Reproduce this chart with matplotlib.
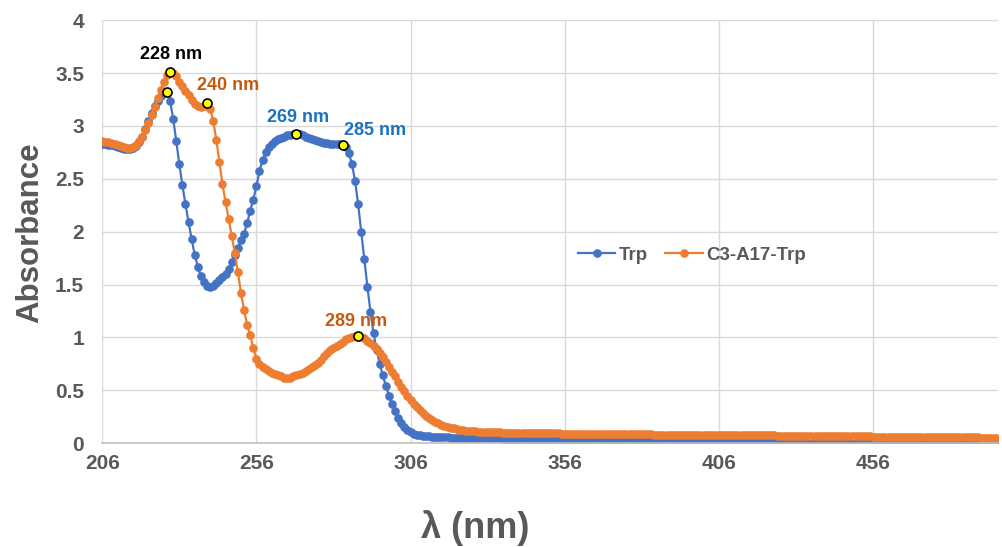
import matplotlib

matplotlib.use("Agg")
import matplotlib.pyplot as plt

plt.rcParams["font.family"] = ["Liberation Sans", "DejaVu Sans"]
plt.rcParams["font.weight"] = "bold"

# =========================
# DATA (absorbance, 1 nm steps from 206 to 496 nm)
# =========================

wavelength = list(range(206, 497))

trp = [
    2.83, 2.83, 2.82, 2.82, 2.81, 2.80, 2.79, 2.78, 2.78, 2.78,  # 206
    2.79, 2.81, 2.85, 2.90, 2.97, 3.05, 3.12, 3.19, 3.24, 3.28,  # 216
    3.31, 3.32, 3.24, 3.07, 2.86, 2.64, 2.44, 2.26, 2.09, 1.93,  # 226
    1.78, 1.67, 1.58, 1.52, 1.49, 1.48, 1.49, 1.51, 1.54, 1.57,  # 236
    1.60, 1.65, 1.71, 1.78, 1.85, 1.92, 1.98, 2.08, 2.20, 2.30,  # 246
    2.43, 2.57, 2.68, 2.75, 2.80, 2.83, 2.86, 2.88, 2.89, 2.90,  # 256
    2.91, 2.91, 2.92, 2.92, 2.92, 2.91, 2.90, 2.89, 2.88, 2.87,  # 266
    2.86, 2.85, 2.84, 2.84, 2.83, 2.83, 2.83, 2.83, 2.82, 2.80,  # 276
    2.74, 2.64, 2.48, 2.26, 2.00, 1.74, 1.48, 1.24, 1.04, 0.88,  # 286
    0.75, 0.64, 0.54, 0.45, 0.37, 0.30, 0.24, 0.19, 0.15, 0.12,  # 296
    0.10, 0.09, 0.08, 0.075, 0.070, 0.066, 0.063, 0.060, 0.058, 0.056,  # 306
    0.055, 0.054, 0.053, 0.052, 0.051, 0.050, 0.050, 0.049, 0.048, 0.048,  # 316
    0.047, 0.047, 0.046, 0.046, 0.045, 0.045, 0.045, 0.044, 0.044, 0.044,  # 326
    0.043, 0.043, 0.043, 0.042, 0.042, 0.042, 0.042, 0.041, 0.041, 0.041,  # 336
    0.041, 0.040, 0.040, 0.040, 0.040, 0.040, 0.039, 0.039, 0.039, 0.039,  # 346
    0.039, 0.038, 0.038, 0.038, 0.038, 0.038, 0.038, 0.037, 0.037, 0.037,  # 356
    0.037, 0.037, 0.037, 0.036, 0.036, 0.036, 0.036, 0.036, 0.036, 0.036,  # 366
    0.035, 0.035, 0.035, 0.035, 0.035, 0.035, 0.035, 0.034, 0.034, 0.034,  # 376
    0.034, 0.034, 0.034, 0.034, 0.034, 0.033, 0.033, 0.033, 0.033, 0.033,  # 386
    0.033, 0.033, 0.033, 0.032, 0.032, 0.032, 0.032, 0.032, 0.032, 0.032,  # 396
    0.032, 0.032, 0.031, 0.031, 0.031, 0.031, 0.031, 0.031, 0.031, 0.031,  # 406
    0.031, 0.030, 0.030, 0.030, 0.030, 0.030, 0.030, 0.030, 0.030, 0.030,  # 416
    0.030, 0.029, 0.029, 0.029, 0.029, 0.029, 0.029, 0.029, 0.029, 0.029,  # 426
    0.029, 0.029, 0.028, 0.028, 0.028, 0.028, 0.028, 0.028, 0.028, 0.028,  # 436
    0.028, 0.028, 0.028, 0.027, 0.027, 0.027, 0.027, 0.027, 0.027, 0.027,  # 446
    0.027, 0.027, 0.027, 0.027, 0.027, 0.026, 0.026, 0.026, 0.026, 0.026,  # 456
    0.026, 0.026, 0.026, 0.026, 0.026, 0.026, 0.026, 0.026, 0.025, 0.025,  # 466
    0.025, 0.025, 0.025, 0.025, 0.025, 0.025, 0.025, 0.025, 0.025, 0.025,  # 476
    0.025, 0.025, 0.024, 0.024, 0.024, 0.024, 0.024, 0.024, 0.024, 0.024,  # 486
    0.024,  # 496
]

c3_a17_trp = [
    2.86, 2.85, 2.85, 2.84, 2.83, 2.82, 2.81, 2.80, 2.79, 2.79,  # 206
    2.80, 2.82, 2.86, 2.90, 2.96, 3.03, 3.10, 3.18, 3.26, 3.34,  # 216
    3.42, 3.48, 3.51, 3.50, 3.47, 3.42, 3.38, 3.33, 3.29, 3.25,  # 226
    3.21, 3.19, 3.18, 3.19, 3.22, 3.16, 3.05, 2.87, 2.66, 2.45,  # 236
    2.28, 2.12, 1.96, 1.80, 1.62, 1.42, 1.26, 1.12, 1.02, 0.90,  # 246
    0.80, 0.75, 0.72, 0.70, 0.68, 0.66, 0.65, 0.64, 0.63, 0.62,  # 256
    0.62, 0.62, 0.63, 0.64, 0.65, 0.66, 0.68, 0.70, 0.72, 0.74,  # 266
    0.76, 0.79, 0.82, 0.85, 0.88, 0.90, 0.92, 0.94, 0.96, 0.98,  # 276
    0.99, 1.00, 1.01, 1.01, 1.00, 0.99, 0.97, 0.95, 0.92, 0.89,  # 286
    0.85, 0.81, 0.77, 0.72, 0.67, 0.63, 0.58, 0.53, 0.49, 0.45,  # 296
    0.41, 0.37, 0.34, 0.31, 0.28, 0.26, 0.24, 0.22, 0.20, 0.19,  # 306
    0.175, 0.165, 0.155, 0.145, 0.138, 0.132, 0.127, 0.122, 0.118, 0.115,  # 316
    0.112, 0.110, 0.108, 0.106, 0.105, 0.104, 0.103, 0.102, 0.101, 0.100,  # 326
    0.099, 0.099, 0.098, 0.097, 0.097, 0.096, 0.096, 0.095, 0.095, 0.094,  # 336
    0.094, 0.093, 0.093, 0.093, 0.092, 0.092, 0.091, 0.091, 0.091, 0.090,  # 346
    0.090, 0.090, 0.089, 0.089, 0.089, 0.088, 0.088, 0.088, 0.087, 0.087,  # 356
    0.087, 0.086, 0.086, 0.086, 0.086, 0.085, 0.085, 0.085, 0.084, 0.084,  # 366
    0.084, 0.084, 0.083, 0.083, 0.083, 0.083, 0.082, 0.082, 0.082, 0.081,  # 376
    0.081, 0.081, 0.081, 0.080, 0.080, 0.080, 0.080, 0.079, 0.079, 0.079,  # 386
    0.079, 0.078, 0.078, 0.078, 0.078, 0.077, 0.077, 0.077, 0.077, 0.076,  # 396
    0.076, 0.076, 0.076, 0.075, 0.075, 0.075, 0.075, 0.074, 0.074, 0.074,  # 406
    0.074, 0.073, 0.073, 0.073, 0.073, 0.072, 0.072, 0.072, 0.072, 0.071,  # 416
    0.071, 0.071, 0.071, 0.070, 0.070, 0.070, 0.070, 0.069, 0.069, 0.069,  # 426
    0.068, 0.067, 0.067, 0.067, 0.066, 0.066, 0.066, 0.066, 0.065, 0.065,  # 436
    0.065, 0.065, 0.064, 0.064, 0.064, 0.064, 0.063, 0.063, 0.063, 0.063,  # 446
    0.062, 0.062, 0.062, 0.062, 0.061, 0.061, 0.061, 0.061, 0.060, 0.060,  # 456
    0.060, 0.060, 0.059, 0.059, 0.059, 0.059, 0.058, 0.058, 0.058, 0.057,  # 466
    0.056, 0.056, 0.056, 0.055, 0.055, 0.055, 0.055, 0.054, 0.054, 0.054,  # 476
    0.054, 0.053, 0.053, 0.053, 0.053, 0.052, 0.052, 0.052, 0.052, 0.051,  # 486
    0.051,  # 496
]

x_ticks = [206, 256, 306, 356, 406, 456]
y_ticks = [0, 0.5, 1, 1.5, 2, 2.5, 3, 3.5, 4]
y_tick_labels = ["0", "0.5", "1", "1.5", "2", "2.5", "3", "3.5", "4"]

# (series, wavelength of marked point, label, label colour, text centre offset px)
peaks = [
    ("trp", 227, None, None, None),
    ("c3", 228, "228 nm", "black", (1, 18)),
    ("c3", 240, "240 nm", "#C55A11", (21, 17)),
    ("trp", 269, "269 nm", "#1B71C2", (2, 17)),
    ("trp", 284, "285 nm", "#1B71C2", (32, 14)),
    ("c3", 289, "289 nm", "#C55A11", (-2, 15)),
]

BLUE = "#4472C4"
ORANGE = "#ED7D31"
GREY = "#595959"

fig = plt.figure(figsize=(10.02, 5.47), dpi=100)
ax = fig.add_axes([0.102, 0.190, 0.894, 0.773])

ax.plot(wavelength, trp, color=BLUE, lw=1.6, marker="o", ms=5.2, label="Trp")
ax.plot(wavelength, c3_a17_trp, color=ORANGE, lw=1.6, marker="o", ms=5.2, label="C3-A17-Trp")

series = {"trp": trp, "c3": c3_a17_trp}
for key, wl, text, color, offset in peaks:
    y = series[key][wavelength.index(wl)]
    ax.plot(wl, y, marker="o", ms=6.5, mfc="#FFFF00", mec="black", mew=1.2, zorder=5)
    if text:
        ax.annotate(
            text,
            (wl, y),
            xytext=offset,
            textcoords="offset pixels",
            ha="center",
            va="center",
            fontsize=13,
            fontweight="bold",
            color=color,
            zorder=6,
        )

ax.set_xlim(206, 496.5)
ax.set_ylim(0, 4)
ax.set_xticks(x_ticks)
ax.set_yticks(y_ticks)
ax.set_yticklabels(y_tick_labels)
ax.tick_params(axis="both", length=0, labelsize=15, labelcolor=GREY)
ax.tick_params(axis="y", pad=13)
ax.tick_params(axis="x", pad=8)
for lab in ax.get_xticklabels() + ax.get_yticklabels():
    lab.set_fontweight("bold")

ax.grid(True, color="#D9D9D9", lw=1)
ax.set_axisbelow(True)
for side in ["top", "right", "left"]:
    ax.spines[side].set_visible(False)
ax.spines["bottom"].set_color("#BFBFBF")
ax.spines["bottom"].set_linewidth(1.2)

fig.text(0.030, 0.575, "Absorbance", rotation=90, ha="center", va="center",
         fontsize=22.5, fontweight="bold", color=GREY)
fig.text(0.474, 1 - 528 / 547, "λ (nm)", ha="center", va="center",
         fontsize=26, fontweight="bold", color=GREY)

fig.legend(
    loc="center",
    bbox_to_anchor=(692 / 1002, 1 - 255 / 547),
    ncol=2,
    frameon=False,
    handlelength=2.0,
    columnspacing=0.9,
    handletextpad=0.2,
    prop={"size": 13.5, "weight": "bold"},
    labelcolor=GREY,
)

fig.savefig("out.png", dpi=100)
